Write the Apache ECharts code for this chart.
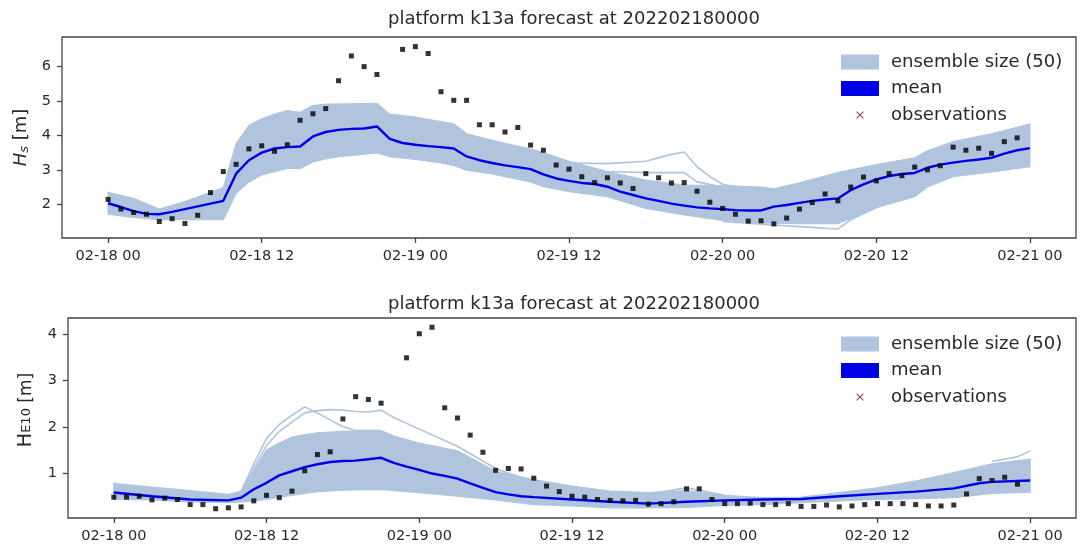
<!DOCTYPE html>
<html><head><meta charset="utf-8">
<script src="https://cdn.jsdelivr.net/npm/echarts@6/dist/echarts.min.js"></script>
<style>html,body{margin:0;padding:0;background:#fff}#c{width:1081px;height:546px}</style>
</head><body><div id="c"></div><script>
// ---- tick labels ----
const xTickHours = [0, 12, 24, 36, 48, 60, 72];
const xTickLabels = ['02-18 00', '02-18 12', '02-19 00', '02-19 12', '02-20 00', '02-20 12', '02-21 00'];
const hsTicks = [2, 3, 4, 5, 6];
const he10Ticks = [1, 2, 3, 4];
const titleText = 'platform k13a forecast at 202202180000';
const seriesNames = ['ensemble size (50)', 'mean', 'observations'];

// ---- Hs (top) : hourly observations from hour 0 ----
const hsObs = [2.14,1.86,1.76,1.71,1.50,1.58,1.44,1.68,2.34,2.95,
  3.16,3.61,3.70,3.54,3.73,4.44,4.63,4.78,5.59,6.31,
  6.00,5.77,null,6.50,6.58,6.38,5.27,5.02,5.02,4.31,
  4.31,4.10,4.23,3.72,3.57,3.14,3.02,2.80,2.63,2.77,
  2.62,2.46,2.89,2.77,2.62,2.63,2.38,2.06,1.88,1.71,
  1.51,1.52,1.43,1.60,1.86,2.05,2.30,2.10,2.50,2.79,
  2.68,2.89,2.83,3.08,3.00,3.12,3.66,3.57,3.63,3.48,
  3.82,3.93];
// hourly ensemble mean from hour 0 to 72
const hsMean = [2.03,1.92,1.80,1.72,1.71,1.78,1.86,1.94,2.02,2.10,
  2.89,3.28,3.50,3.62,3.66,3.68,3.97,4.10,4.16,4.19,
  4.20,4.26,3.90,3.78,3.73,3.69,3.66,3.62,3.39,3.28,
  3.20,3.13,3.08,3.02,2.87,2.75,2.68,2.62,2.59,2.51,
  2.37,2.27,2.17,2.10,2.02,1.96,1.91,1.88,1.86,1.83,
  1.82,1.82,1.93,1.98,2.04,2.10,2.14,2.17,2.41,2.58,
  2.72,2.82,2.88,2.91,3.06,3.15,3.21,3.26,3.30,3.35,
  3.47,3.57,3.63];
// ensemble envelope
const hsBandHours = [0,2,4,6,8,9,10,11,12,13,14,15,16,17,18,21,22,24,26,27,28,30,33,34,36,39,42,45,48,51,52,54,57,60,63,64,66,69,72];
const hsBandUpper = [2.35,2.17,1.86,2.08,2.35,2.48,3.76,4.29,4.48,4.62,4.72,4.67,4.87,4.91,4.91,4.93,4.62,4.53,4.40,4.34,4.05,3.86,3.60,3.50,3.25,2.95,2.70,2.56,2.54,2.50,2.45,2.62,2.92,3.15,3.35,3.55,3.82,4.05,4.33];
const hsBandLower = [1.71,1.62,1.55,1.55,1.55,1.55,2.32,2.65,2.85,2.95,3.04,3.04,3.23,3.32,3.38,3.49,3.38,3.30,3.20,3.13,2.99,2.88,2.65,2.51,2.37,2.22,1.88,1.69,1.53,1.45,1.45,1.44,1.44,1.90,2.22,2.50,2.80,2.94,3.09];
// distinct ensemble members outside the envelope
const hsMemberAHours = [36,39,42,44,45,46,47,48,51,52];
const hsMemberA = [3.20,3.18,3.25,3.45,3.52,3.09,2.80,2.58,2.37,2.37];
const hsMemberBHours = [39,42,45,46,48,51];
const hsMemberB = [2.95,2.92,2.92,2.65,2.50,2.45];
const hsMemberCHours = [48,51,54,57,58,60];
const hsMemberC = [1.50,1.42,1.35,1.28,1.55,1.90];

// ---- HE10 (bottom) ----
const he10Obs = [0.48,0.48,0.50,0.42,0.46,0.43,0.32,0.32,0.23,0.25,
  0.27,0.40,0.52,0.47,0.61,1.05,1.40,1.46,2.17,2.65,
  2.59,2.51,null,3.49,4.01,4.15,2.41,2.19,1.82,1.45,
  1.06,1.10,1.09,0.89,0.72,0.60,0.50,0.48,0.43,0.41,
  0.40,0.41,0.33,0.34,0.38,0.66,0.66,0.43,0.34,0.34,
  0.35,0.32,0.32,0.34,0.28,0.28,0.31,0.27,0.29,0.32,
  0.34,0.34,0.34,0.32,0.29,0.29,0.31,0.55,0.88,0.84,
  0.91,0.76];
const he10MeanHours = [0,3,6,9,10,11,12,13,14,15,16,17,18,19,20,21,22,23,24,25,26,27,28,29,30,31,32,33,36,39,42,45,48,51,54,57,60,63,66,68,69,72];
const he10Mean = [0.58,0.50,0.43,0.41,0.47,0.65,0.79,0.95,1.04,1.13,1.19,1.24,1.26,1.27,1.30,1.33,1.22,1.14,1.07,0.99,0.94,0.88,0.78,0.68,0.59,0.54,0.50,0.48,0.43,0.38,0.34,0.38,0.41,0.43,0.44,0.50,0.55,0.60,0.67,0.78,0.81,0.84];
const he10BandHours = [0,3,6,9,10,11,12,13,14,15,16,18,21,22,24,27,30,33,36,39,42,45,48,51,54,57,60,63,66,69,72];
const he10BandUpper = [0.78,0.70,0.62,0.54,0.61,1.05,1.50,1.65,1.78,1.83,1.87,1.90,1.92,1.80,1.65,1.48,1.04,0.86,0.72,0.61,0.58,0.62,0.52,0.47,0.48,0.58,0.68,0.83,1.01,1.20,1.30];
const he10BandLower = [0.43,0.42,0.38,0.36,0.38,0.40,0.43,0.48,0.52,0.56,0.60,0.63,0.65,0.62,0.58,0.50,0.42,0.32,0.29,0.25,0.25,0.26,0.30,0.32,0.36,0.40,0.43,0.45,0.47,0.56,0.59];
const he10MemberAHours = [10,11,12,13,14,15,16,17,18,19,21];
const he10MemberA = [0.60,1.20,1.75,2.05,2.25,2.43,2.30,2.15,2.00,1.92,1.92];
const he10MemberBHours = [10,11,12,13,14,15,16,17,18,19,20,21,22,24,27,30,33];
const he10MemberB = [0.60,1.10,1.60,1.90,2.10,2.30,2.35,2.37,2.36,2.33,2.32,2.36,2.20,1.95,1.58,1.10,0.80];
const he10MemberCHours = [42,45,48];
const he10MemberC = [0.55,0.68,0.52];
const he10MemberDHours = [69,71,72];
const he10MemberD = [1.25,1.35,1.48];

// ---- build ----
const ENS = '#b0c4de', MEAN = '#0000e8', AX = '#444', TXT = '#2a2a2a';
const FONT = 'DejaVu Sans';
const pairs = (hs, vs) => hs.map((h, i) => [h, vs[i]]);
const hourly = vs => vs.map((v, i) => [i, v]).filter(p => p[1] !== null);

function bandSeries(gi, bandH, up, lo) {
  return {
    name: seriesNames[0], type: 'custom', xAxisIndex: gi, yAxisIndex: gi, silent: true, z: 1,
    itemStyle: { color: ENS },
    data: bandH.map((h, i) => [h, up[i], lo[i]]),
    encode: { x: 0, y: [1, 2] },
    renderItem: function (params, api) {
      if (params.dataIndex !== 0) return null;
      const pts = [];
      bandH.forEach((h, i) => pts.push(api.coord([h, up[i]])));
      for (let i = bandH.length - 1; i >= 0; i--) pts.push(api.coord([bandH[i], lo[i]]));
      return { type: 'polygon', shape: { points: pts },
        style: { fill: ENS, stroke: ENS, lineWidth: 1.2 } };
    }
  };
}

function plotSeries(gi, bandH, up, lo, members, meanData, obs) {
  const out = [bandSeries(gi, bandH, up, lo)];
  members.forEach((m, k) => out.push({ name: 'member-' + gi + '-' + k, type: 'line', xAxisIndex: gi, yAxisIndex: gi,
    data: pairs(m[0], m[1]), symbol: 'none', lineStyle: { color: ENS, width: 1.6 }, silent: true, z: 2 }));
  out.push({ name: seriesNames[1], type: 'line', xAxisIndex: gi, yAxisIndex: gi, data: meanData,
    symbol: 'none', itemStyle: { color: MEAN }, lineStyle: { color: MEAN, width: 2.4 }, z: 3 });
  out.push({ name: seriesNames[2], type: 'scatter', xAxisIndex: gi, yAxisIndex: gi, data: obs,
    symbol: 'rect', symbolSize: 5, itemStyle: { color: '#000' }, z: 4 });
  return out;
}

const xIcon = 'path://M0,0Z M20,20Z M5,6 L6,5 L10,9 L14,5 L15,6 L11,10 L15,14 L14,15 L10,11 L6,15 L5,14 L9,10 Z';
function legendAt(top) {
  return { orient: 'vertical', left: 836, top: top, itemWidth: 38, itemHeight: 15, itemGap: 8.5,
    selectedMode: false,
    textStyle: { fontSize: 18, lineHeight: 18, color: TXT, fontFamily: FONT, padding: [0, 0, 0, 7] },
    data: [
      { name: seriesNames[0], icon: 'rect', itemStyle: { color: ENS } },
      { name: seriesNames[1], icon: 'rect', itemStyle: { color: MEAN } },
      { name: seriesNames[2], icon: xIcon, itemStyle: { color: '#6b1a1a' } }
    ] };
}

function xAxisFor(gi) {
  return { type: 'value', gridIndex: gi, min: -3.6, max: 75.6,
    axisLine: { show: false, onZero: false }, splitLine: { show: false },
    axisTick: { show: true, length: 5, lineStyle: { color: AX, width: 1.3 }, customValues: xTickHours },
    axisLabel: { customValues: xTickHours, fontSize: 14.5, color: TXT, fontFamily: FONT, margin: 11,
      formatter: v => xTickLabels[xTickHours.indexOf(v)] } };
}
function yAxisFor(gi, mn, mx, ticks, name, gap, rich) {
  return { type: 'value', gridIndex: gi, min: mn, max: mx,
    axisLine: { show: false, onZero: false }, splitLine: { show: false },
    axisTick: { show: true, length: 5, lineStyle: { color: AX, width: 1.3 }, customValues: ticks },
    axisLabel: { customValues: ticks, fontSize: 14.5, color: TXT, fontFamily: FONT, margin: 11 },
    name: name, nameLocation: 'middle', nameGap: gap, nameRotate: 90,
    nameTextStyle: { fontSize: 18, color: TXT, fontFamily: FONT, rich: rich } };
}

const option = {
  animation: false,
  backgroundColor: '#fff',
  title: [
    { text: titleText, left: 569, top: 5, textAlign: 'center', textStyle: { fontSize: 18, fontWeight: 'normal', color: TXT, fontFamily: FONT } },
    { text: titleText, left: 569, top: 290, textAlign: 'center', textStyle: { fontSize: 18, fontWeight: 'normal', color: TXT, fontFamily: FONT } }
  ],
  legend: [legendAt(48), legendAt(330)],
  grid: [
    { left: 62, top: 37, width: 1014, height: 201, show: true, borderColor: AX, borderWidth: 1.3, backgroundColor: 'transparent' },
    { left: 68, top: 318, width: 1008, height: 200, show: true, borderColor: AX, borderWidth: 1.3, backgroundColor: 'transparent' }
  ],
  xAxis: [xAxisFor(0), xAxisFor(1)],
  yAxis: [
    yAxisFor(0, 1.02, 6.86, hsTicks, '{i|H}{s|s}{n| [m]}', 28,
      { i: { fontSize: 18, fontStyle: 'italic', fontFamily: FONT, color: TXT },
        s: { fontSize: 13, fontStyle: 'italic', fontFamily: FONT, color: TXT, padding: [6, 0, 0, 0] },
        n: { fontSize: 18, fontFamily: FONT, color: TXT } }),
    yAxisFor(1, 0.03, 4.35, he10Ticks, '{i|H}{s|E10}{n| [m]}', 32,
      { i: { fontSize: 19, fontFamily: FONT, color: TXT, padding: [0, 0, 0, 16] },
        s: { fontSize: 13, fontFamily: FONT, color: TXT },
        n: { fontSize: 17, fontFamily: FONT, color: TXT } })
  ],
  series: [].concat(
    plotSeries(0, hsBandHours, hsBandUpper, hsBandLower,
      [[hsMemberAHours, hsMemberA], [hsMemberBHours, hsMemberB], [hsMemberCHours, hsMemberC]],
      hourly(hsMean), hourly(hsObs)),
    plotSeries(1, he10BandHours, he10BandUpper, he10BandLower,
      [[he10MemberAHours, he10MemberA], [he10MemberBHours, he10MemberB], [he10MemberCHours, he10MemberC], [he10MemberDHours, he10MemberD]],
      pairs(he10MeanHours, he10Mean), hourly(he10Obs))
  )
};
echarts.init(document.getElementById('c'), null, { renderer: 'canvas' }).setOption(option);
</script></body></html>
